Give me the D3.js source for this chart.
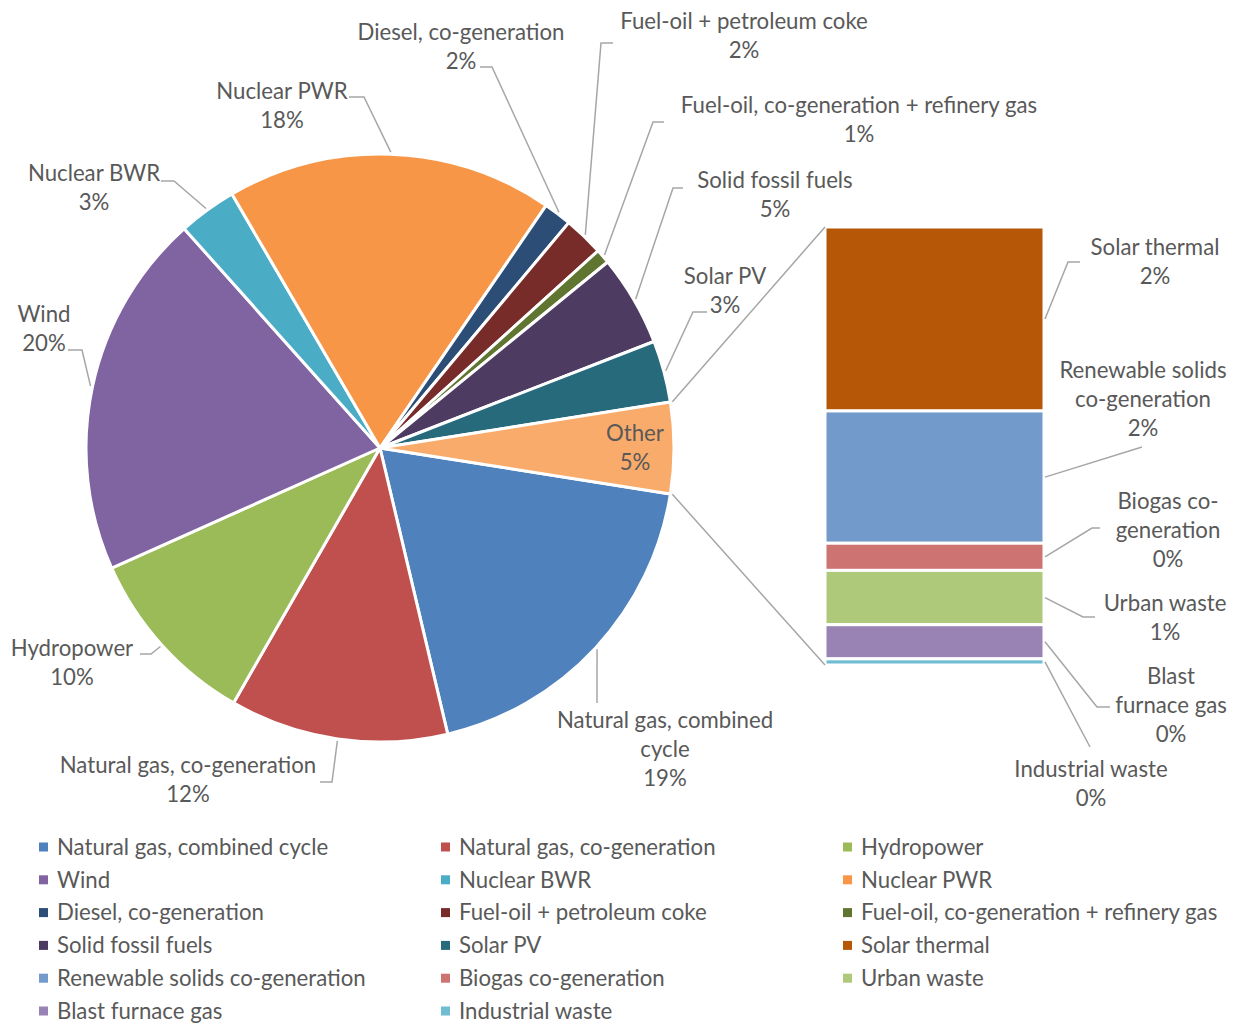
<!DOCTYPE html>
<html>
<head>
<meta charset="utf-8">
<script src="https://cdn.jsdelivr.net/npm/d3@7"></script>
<style>
  html, body { margin: 0; padding: 0; background: #ffffff; }
  svg { display: block; }
</style>
</head>
<body>
<svg id="chart" width="1250" height="1025"></svg>
<script>
// ---------------- DATA ----------------
const pieCategories = [
  "Natural gas, combined cycle", "Natural gas, co-generation", "Hydropower", "Wind",
  "Nuclear BWR", "Nuclear PWR", "Diesel, co-generation", "Fuel-oil + petroleum coke",
  "Fuel-oil, co-generation + refinery gas", "Solid fossil fuels", "Solar PV"
];
const pieValues = [18.8, 12.0, 10.0, 20.1, 3.2, 17.96, 1.54, 2.2, 0.8, 5.0, 3.4];
const pieColors = ["#4F81BD", "#C0504D", "#9BBB59", "#8064A2", "#4BACC6", "#F79646",
                   "#2C4D75", "#772C2A", "#5F7530", "#4D3B62", "#276A7C"];

const barCategories = ["Solar thermal", "Renewable solids co-generation", "Biogas co-generation",
                       "Urban waste", "Blast furnace gas", "Industrial waste"];
const barValues = [2.10, 1.51, 0.31, 0.62, 0.39, 0.07];
const barColors = ["#B65708", "#729ACA", "#CD7371", "#AFC97A", "#9983B5", "#6FBDD1"];

const otherName = "Other";
const otherColor = "#F9AB6B";

// ---------------- LAYOUT ----------------
const W = 1250, H = 1025;
const cx = 380, cy = 448, R = 294;
const barX0 = 825, barX1 = 1044, barTop = 227, barBottom = 665;
const textColor = "#595959";
const lineColor = "#A6A6A6";
const lineH = 29;

// label placement (text centre, first line centre y, leader start / elbow)
const labelLayout = {
  "Natural gas, combined cycle": { lines: ["Natural gas, combined", "cycle"], x: 665, y: 720, leader: [[597, 703]] },
  "Natural gas, co-generation": { lines: ["Natural gas, co-generation"], x: 188, y: 765, leader: [[320, 782], [332, 782]] },
  "Hydropower": { lines: ["Hydropower"], x: 72, y: 648, leader: [[140, 654], [151, 654]] },
  "Wind": { lines: ["Wind"], x: 44, y: 314, leader: [[68, 350], [82, 350]] },
  "Nuclear BWR": { lines: ["Nuclear BWR"], x: 94, y: 173, leader: [[161, 181], [174, 181]] },
  "Nuclear PWR": { lines: ["Nuclear PWR"], x: 282, y: 91, leader: [[349, 97], [364, 97]] },
  "Diesel, co-generation": { lines: ["Diesel, co-generation"], x: 461, y: 32, leader: [[480, 67], [492, 67]] },
  "Fuel-oil + petroleum coke": { lines: ["Fuel-oil + petroleum coke"], x: 744, y: 21, leader: [[613, 43], [601, 43]] },
  "Fuel-oil, co-generation + refinery gas": { lines: ["Fuel-oil, co-generation + refinery gas"], x: 859, y: 105, leader: [[664, 122], [653, 122]] },
  "Solid fossil fuels": { lines: ["Solid fossil fuels"], x: 775, y: 180, leader: [[683, 188], [673, 188]] },
  "Solar PV": { lines: ["Solar PV"], x: 725, y: 276, leader: [[707, 312], [693, 312]] },
  "Other": { lines: ["Other"], x: 635, y: 433, leader: null },
  "Solar thermal": { lines: ["Solar thermal"], x: 1155, y: 247, leader: [[1080, 262], [1068, 262]] },
  "Renewable solids co-generation": { lines: ["Renewable solids", "co-generation"], x: 1143, y: 370, leader: [[1142, 447]] },
  "Biogas co-generation": { lines: ["Biogas co-", "generation"], x: 1168, y: 501, leader: [[1100, 528], [1092, 528]] },
  "Urban waste": { lines: ["Urban waste"], x: 1165, y: 603, leader: [[1095, 617], [1083, 617]] },
  "Blast furnace gas": { lines: ["Blast", "furnace gas"], x: 1171, y: 676, leader: [[1110, 707], [1097, 707]] },
  "Industrial waste": { lines: ["Industrial waste"], x: 1091, y: 769, leader: [[1090, 747]] }
};

const svg = d3.select("#chart");
svg.append("rect").attr("width", W).attr("height", H).attr("fill", "#fff");

const fontFamily = "Lato, 'Open Sans', 'DejaVu Sans', sans-serif";
// size the font so label widths match the reference (Calibri-like metrics)
const probe = svg.append("text").attr("font-family", fontFamily).attr("font-size", 100)
  .text("Diesel, co-generation");
const probeW = probe.node().getComputedTextLength();
probe.remove();
const fontSize = Math.max(16, Math.min(26, 100 * 207 / probeW));

// ---------------- PIE ----------------
const pieData = pieCategories.map((c, i) => ({ name: c, value: pieValues[i], color: pieColors[i] }));
const otherTotal = d3.sum(barValues);
pieData.push({ name: otherName, value: otherTotal, color: otherColor });
const grandTotal = d3.sum(pieData, d => d.value);
const pct = v => Math.round(v / grandTotal * 100) + "%";

const otherAngle = 2 * Math.PI * otherTotal / grandTotal;
const start = Math.PI / 2 + otherAngle / 2;
const pie = d3.pie().sort(null).value(d => d.value).startAngle(start).endAngle(start + 2 * Math.PI);
const arcs = pie(pieData);
const arc = d3.arc().innerRadius(0).outerRadius(R);

const gPie = svg.append("g").attr("transform", `translate(${cx},${cy})`);
gPie.selectAll("path").data(arcs).join("path")
  .attr("d", arc)
  .attr("fill", d => d.data.color)
  .attr("stroke", "#fff")
  .attr("stroke-width", 3)
  .attr("stroke-linejoin", "round");

const polar = (a, r) => [cx + r * Math.sin(a), cy - r * Math.cos(a)];

// ---------------- BAR OF PIE ----------------
const barData = barCategories.map((c, i) => ({ name: c, value: barValues[i], color: barColors[i] }));
const yBar = d3.scaleLinear().domain([0, otherTotal]).range([barTop, barBottom]);
let acc = 0;
barData.forEach(d => { d.y0 = acc; acc += d.value; d.y1 = acc; });

svg.append("g").selectAll("rect").data(barData).join("rect")
  .attr("x", barX0)
  .attr("width", barX1 - barX0)
  .attr("y", d => yBar(d.y0))
  .attr("height", d => Math.max(0, yBar(d.y1) - yBar(d.y0)))
  .attr("fill", d => d.color)
  .attr("stroke", "#fff")
  .attr("stroke-width", 3);

// connector lines between "Other" slice and the bar
const otherArc = arcs[arcs.length - 1];
const pTop = polar(otherArc.startAngle, R + 2);
const pBot = polar(otherArc.endAngle, R + 2);
const gLines = svg.append("g").attr("fill", "none").attr("stroke", lineColor).attr("stroke-width", 1.5);
gLines.append("line").attr("x1", pTop[0]).attr("y1", pTop[1]).attr("x2", barX0).attr("y2", yBar(0));
gLines.append("line").attr("x1", pBot[0]).attr("y1", pBot[1]).attr("x2", barX0).attr("y2", yBar(otherTotal));

// ---------------- LABELS ----------------
const labelItems = [];
arcs.forEach(a => {
  const mid = (a.startAngle + a.endAngle) / 2;
  labelItems.push({ name: a.data.name, value: a.data.value, target: polar(mid, R + 2) });
});
barData.forEach(d => {
  labelItems.push({ name: d.name, value: d.value, target: [barX1 + 1, (yBar(d.y0) + yBar(d.y1)) / 2] });
});

const line = d3.line();
labelItems.forEach(item => {
  const L = labelLayout[item.name];
  if (!L) return;
  if (L.leader) {
    gLines.append("path").attr("d", line(L.leader.concat([item.target])));
  }
  const lines = L.lines.concat([pct(item.value)]);
  const t = svg.append("text")
    .attr("font-family", fontFamily)
    .attr("font-size", fontSize)
    .attr("fill", textColor)
    .attr("text-anchor", "middle");
  lines.forEach((s, i) => {
    t.append("tspan").attr("x", L.x).attr("y", L.y + i * lineH).attr("dy", "0.35em").text(s);
  });
});

// ---------------- LEGEND ----------------
const legendItems = pieData.filter(d => d.name !== otherName).concat(barData);
const colX = [39, 441, 843];
const rowY0 = 847, rowStep = 32.8;
const gLeg = svg.append("g");
const li = gLeg.selectAll("g").data(legendItems).join("g")
  .attr("transform", (d, i) => `translate(${colX[i % 3]},${rowY0 + Math.floor(i / 3) * rowStep})`);
li.append("rect").attr("x", 0).attr("y", -4.5).attr("width", 9).attr("height", 9).attr("fill", d => d.color);
li.append("text").attr("x", 18).attr("y", 0).attr("dy", "0.35em")
  .attr("font-family", fontFamily).attr("font-size", fontSize).attr("fill", textColor)
  .text(d => d.name);
</script>
</body>
</html>
